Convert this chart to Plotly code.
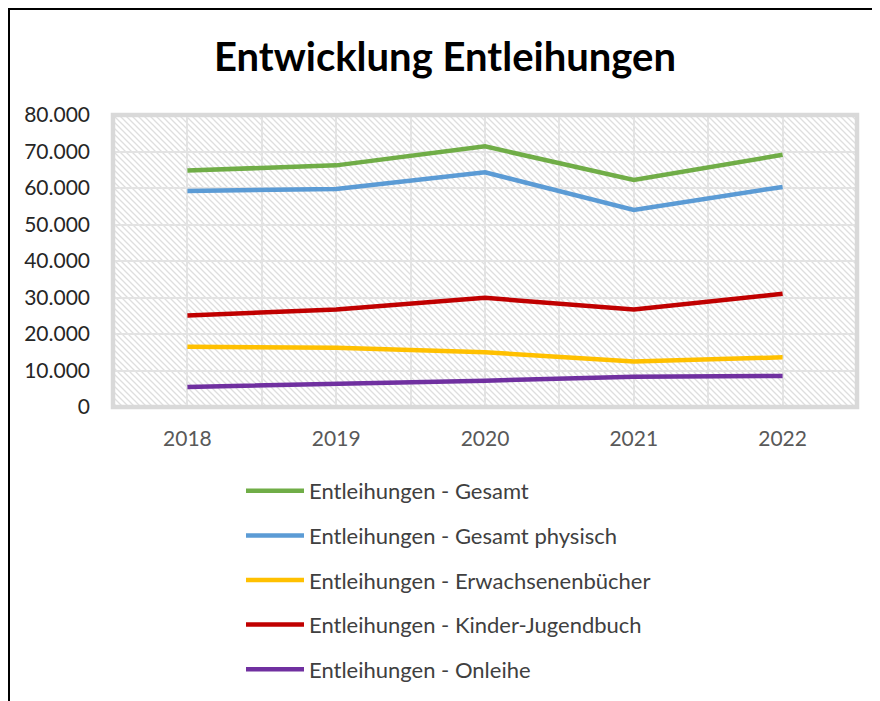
import base64
import plotly.graph_objects as go

years = [2018, 2019, 2020, 2021, 2022]
gesamt = [64800, 66200, 71400, 62200, 69100]
gesamt_physisch = [59200, 59700, 64300, 54000, 60300]
erwachsenenbuecher = [16500, 16200, 15000, 12500, 13600]
kinder_jugendbuch = [25100, 26700, 29900, 26700, 31000]
onleihe = [5500, 6300, 7200, 8300, 8500]

series_names = [
    "Entleihungen - Gesamt",
    "Entleihungen - Gesamt physisch",
    "Entleihungen - Erwachsenenbücher",
    "Entleihungen - Kinder-Jugendbuch",
    "Entleihungen - Onleihe",
]
series_values = [gesamt, gesamt_physisch, erwachsenenbuecher, kinder_jugendbuch, onleihe]
colors = ["#70AD47", "#5B9BD5", "#FFC000", "#C00000", "#7030A0"]

y_ticks = [0, 10000, 20000, 30000, 40000, 50000, 60000, 70000, 80000]

FONT = "Lato"

fig = go.Figure()
for i, (name, vals, col) in enumerate(zip(series_names, series_values, colors)):
    fig.add_trace(go.Scatter(
        x=years, y=vals, name=name, mode="lines",
        line=dict(color=col, width=4.5),
        legendgroup=f"g{i}",
    ))

# page has an 8px body margin; figure coordinates = page coordinates - 8
FW, FH = 872, 693
L, T = 105, 107
PW, PH = 744, 292
R = FW - L - PW
B = FH - T - PH

svg = f'''<svg xmlns="http://www.w3.org/2000/svg" width="{PW}" height="{PH}" viewBox="0 0 {PW} {PH}" preserveAspectRatio="none">
<defs><pattern id="p" width="6" height="6" patternUnits="userSpaceOnUse">
<rect width="6" height="6" fill="#ffffff"/>
<path d="M0,0 L6,6 M-3,3 L3,9 M3,-3 L9,3" stroke="#dedede" stroke-width="1.3"/>
</pattern></defs>
<rect width="{PW}" height="{PH}" fill="url(#p)"/></svg>'''
src = "data:image/svg+xml;base64," + base64.b64encode(svg.encode()).decode()

def px(xf):
    return (xf - L) / PW

def py(yf):
    return (FH - B - yf) / PH

fig.update_layout(
    width=FW, height=FH,
    margin=dict(l=L, r=R, t=T, b=B, autoexpand=False),
    paper_bgcolor="white",
    plot_bgcolor="rgba(0,0,0,0)",
    separators=",.",
    font=dict(family=FONT, size=21, color="#404040"),
    title=dict(
        text="<b>Entwicklung Entleihungen</b>",
        font=dict(family=FONT, size=40, color="#000000"),
        x=437 / FW, xref="container", xanchor="center",
        y=1 - 49 / FH, yref="container", yanchor="middle",
    ),
    images=[dict(
        source=src, xref="paper", yref="paper", x=0, y=1,
        sizex=1, sizey=1, sizing="stretch", layer="below",
        xanchor="left", yanchor="top",
    )],
    xaxis=dict(
        range=[2017.5, 2022.5], tickvals=years, ticktext=[str(y) for y in years],
        showgrid=True, gridcolor="#E3E3E3", gridwidth=1.5,
        minor=dict(dtick=0.5, tick0=2017.5, showgrid=True, gridcolor="#E3E3E3", gridwidth=1.5),
        zeroline=False, showline=False, automargin=False,
        ticks="", ticklabelstandoff=17,
        tickfont=dict(family=FONT, size=21, color="#595959"),
        fixedrange=True,
    ),
    yaxis=dict(
        range=[0, 80000], tickvals=y_ticks, tickformat=",d",
        showgrid=True, gridcolor="#E3E3E3", gridwidth=1.5,
        zeroline=False, showline=False, automargin=False,
        ticks="", ticklabelstandoff=22,
        tickfont=dict(family=FONT, size=21, color="#262626"),
        fixedrange=True,
    ),
    legend=dict(
        xref="container", yref="container",
        x=233 / FW, y=1 - 462 / FH, xanchor="left", yanchor="top",
        bgcolor="rgba(0,0,0,0)",
        font=dict(family=FONT, size=22, color="#404040"),
        tracegroupgap=13, itemwidth=58,
    ),
    shapes=[
        dict(type="rect", xref="paper", yref="paper", x0=0, x1=1, y0=0, y1=1,
             line=dict(color="#D9D9D9", width=4.5), fillcolor="rgba(0,0,0,0)", layer="above"),
        dict(type="path", xref="paper", yref="paper",
             path=f"M {px(1)},{py(720)} L {px(1)},{py(1)} L {px(900)},{py(1)}",
             line=dict(color="#000000", width=2)),
    ],
)

fig.write_html("out.html")
